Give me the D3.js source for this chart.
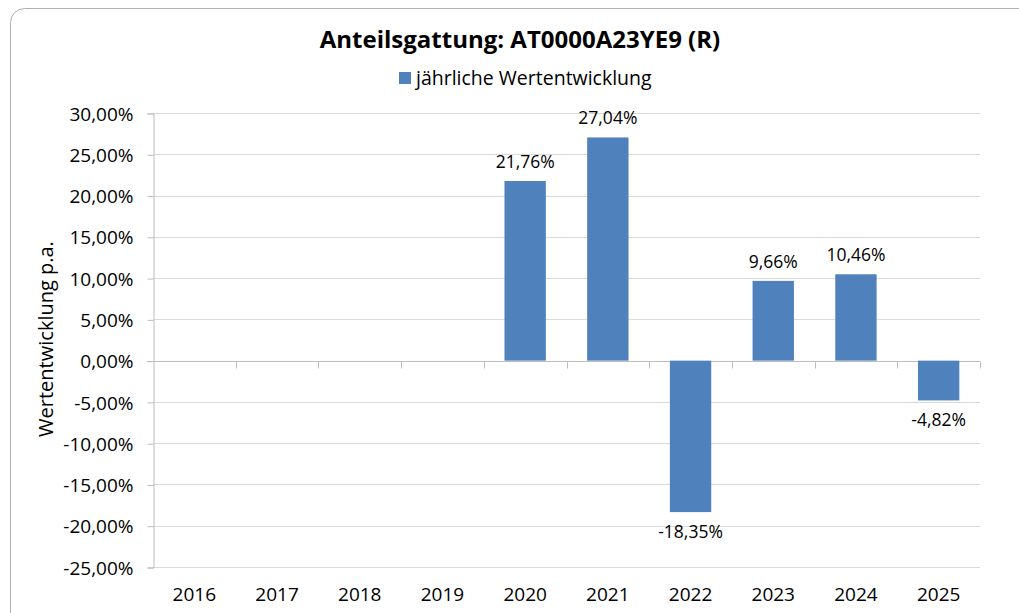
<html>
<head>
	<meta charset="utf-8">
	<title>Anteilsgattung</title>
	<style>
		body { margin: 0; background: #fff; }
		text { font-family: "Open Sans", sans-serif; fill: #000; }
	</style>
</head>
<body>
	<div id="chart"></div>
	<script src="https://d3js.org/d3.v7.min.js"></script>
	<script>
		var years = ["2016", "2017", "2018", "2019", "2020", "2021", "2022", "2023", "2024", "2025"];
		var values = [null, null, null, null, 21.76, 27.04, -18.35, 9.66, 10.46, -4.82];
		var yTicks = [-25, -20, -15, -10, -5, 0, 5, 10, 15, 20, 25, 30];
		var chartTitle = "Anteilsgattung: AT0000A23YE9 (R)";
		var seriesName = "jährliche Wertentwicklung";
		var yTitle = "Wertentwicklung p.a.";

		var width = 1019, height = 613;
		var plotLeft = 153, plotRight = 980, plotTop = 113, plotBottom = 567;
		var barColor = "#4f81bd";

		var svg = d3.select("#chart").append("svg")
			.attr("width", width).attr("height", height);

		// outer frame
		svg.append("rect")
			.attr("x", 10.5).attr("y", 8.5)
			.attr("width", 1030).attr("height", 620)
			.attr("rx", 14)
			.attr("fill", "#fff").attr("stroke", "#b0b0b0");

		// german number style, plain hyphen for negatives
		var fmt = function (v) { return d3.format(".2f")(v).replace(".", ",").replace("\u2212", "-") + "%"; };

		var x = d3.scaleBand().domain(years).range([plotLeft, plotRight]).paddingInner(0.5).paddingOuter(0.25);
		var xEdge = d3.scaleLinear().domain([0, years.length]).range([plotLeft, plotRight]);
		var y = d3.scaleLinear().domain([-25, 30]).range([plotBottom, plotTop]);

		// gridlines
		svg.append("g").selectAll("line").data(yTicks)
			.join("line")
			.attr("x1", plotLeft).attr("x2", plotRight)
			.attr("y1", function (d) { return Math.round(y(d)) + 0.5; })
			.attr("y2", function (d) { return Math.round(y(d)) + 0.5; })
			.attr("stroke", "#dadada");

		// y axis
		var yAxis = d3.axisLeft(y).tickValues(yTicks).tickSize(6).tickPadding(14)
			.tickFormat(fmt);
		var gy = svg.append("g").attr("transform", "translate(" + (plotLeft + 0.5) + ",0.5)").call(yAxis);
		gy.select(".domain").attr("stroke", "#bdbdbd");
		gy.selectAll(".tick line").attr("stroke", "#bdbdbd");
		gy.selectAll(".tick text").attr("font-size", 19).attr("font-family", "Open Sans").attr("fill", "#000").attr("dy", "0.35em");

		// zero axis with category tick marks
		var y0 = Math.round(y(0)) + 0.5;
		svg.append("line").attr("x1", plotLeft - 6).attr("x2", plotRight)
			.attr("y1", y0).attr("y2", y0).attr("stroke", "#bdbdbd");
		svg.append("g").selectAll("line").data(d3.range(1, years.length + 1))
			.join("line")
			.attr("x1", function (d) { return Math.round(xEdge(d)) + 0.5; })
			.attr("x2", function (d) { return Math.round(xEdge(d)) + 0.5; })
			.attr("y1", y0).attr("y2", y0 + 7)
			.attr("stroke", "#bdbdbd");

		// bars
		var data = years.map(function (d, i) { return { year: d, value: values[i] }; })
			.filter(function (d) { return d.value !== null; });

		svg.append("g").selectAll("rect").data(data)
			.join("rect")
			.attr("x", function (d) { return x(d.year); })
			.attr("width", x.bandwidth())
			.attr("y", function (d) { return y(Math.max(0, d.value)); })
			.attr("height", function (d) { return Math.abs(y(d.value) - y(0)); })
			.attr("fill", barColor);

		// data labels
		svg.append("g").selectAll("text").data(data)
			.join("text")
			.attr("x", function (d) { return x(d.year) + x.bandwidth() / 2; })
			.attr("y", function (d) { return d.value >= 0 ? y(d.value) - 13 : y(d.value) + 26; })
			.attr("text-anchor", "middle")
			.attr("font-size", 17.5)
			.text(function (d) { return fmt(d.value); });

		// x labels
		svg.append("g").selectAll("text").data(years)
			.join("text")
			.attr("x", function (d) { return x(d) + x.bandwidth() / 2; })
			.attr("y", 601)
			.attr("text-anchor", "middle")
			.attr("font-size", 19)
			.text(function (d) { return d; });

		// title
		svg.append("text").attr("x", 520).attr("y", 48)
			.attr("text-anchor", "middle")
			.attr("font-size", 24).attr("font-weight", "bold")
			.text(chartTitle);

		// legend
		svg.append("rect").attr("x", 399).attr("y", 72).attr("width", 12).attr("height", 12).attr("fill", barColor);
		svg.append("text").attr("x", 416).attr("y", 85)
			.attr("font-size", 19.5)
			.text(seriesName);

		// y axis title
		svg.append("text")
			.attr("transform", "translate(53,339) rotate(-90)")
			.attr("text-anchor", "middle")
			.attr("font-size", 20)
			.text(yTitle);
	</script>
</body>
</html>
